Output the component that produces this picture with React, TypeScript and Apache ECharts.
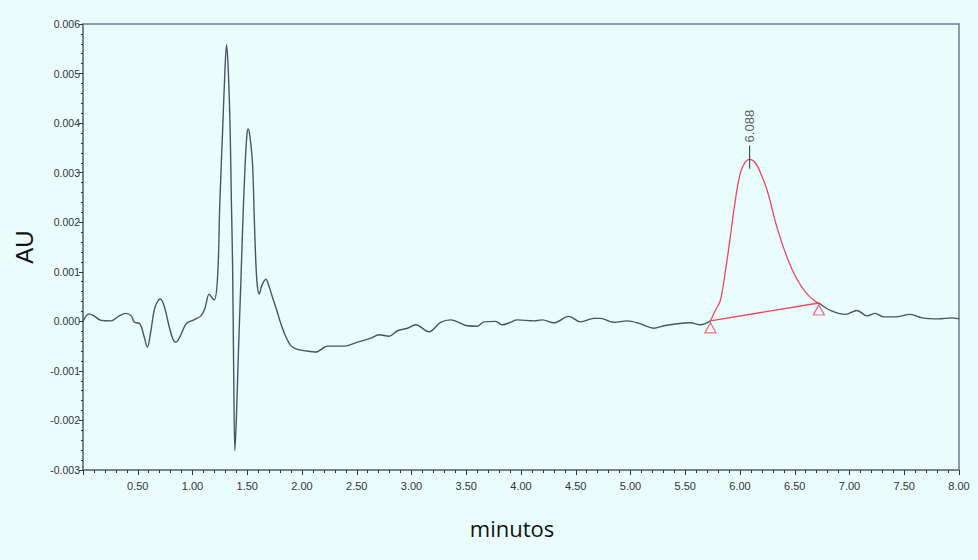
import React, { useEffect, useRef } from "react";
import * as echarts from "echarts";

// Chromatogram trace before the integrated peak [minutes, AU]
const traceBefore: [number, number][] = [
  [0.0, 0.0], [0.055, 0.00015], [0.1, 0.00011], [0.164, 0.00002], [0.255, 0.00001],
  [0.33, 0.00011], [0.39, 0.00016], [0.44, 0.00011], [0.47, -0.00002], [0.52, -0.00005],
  [0.556, -0.00029], [0.588, -0.00052], [0.62, -0.00019], [0.657, 0.00028], [0.705, 0.00045],
  [0.74, 0.00032], [0.785, -0.00009], [0.82, -0.00035], [0.849, -0.00042], [0.894, -0.00027],
  [0.93, -0.00009], [0.958, -0.00002], [1.013, 0.00003], [1.077, 0.00011], [1.113, 0.00026],
  [1.152, 0.00055], [1.177, 0.00048], [1.198, 0.00043], [1.229, 0.00089], [1.25, 0.00243],
  [1.275, 0.00384], [1.296, 0.00505], [1.311, 0.00558], [1.327, 0.00505], [1.344, 0.00384],
  [1.355, 0.00243], [1.366, 0.00116], [1.376, -0.001], [1.387, -0.00261], [1.4, -0.002],
  [1.414, -0.001], [1.426, -0.00019], [1.442, 0.00082], [1.457, 0.00183], [1.478, 0.00304],
  [1.496, 0.00374], [1.508, 0.00388], [1.524, 0.00374], [1.548, 0.00318], [1.565, 0.00203],
  [1.579, 0.00116], [1.592, 0.00072], [1.609, 0.00055], [1.633, 0.00072], [1.67, 0.00085],
  [1.697, 0.00072], [1.731, 0.00048], [1.77, 0.00022], [1.807, -0.00005], [1.852, -0.00031],
  [1.898, -0.00049], [1.953, -0.00056], [2.019, -0.00059], [2.126, -0.00062], [2.233, -0.0005],
  [2.384, -0.0005], [2.506, -0.00042], [2.628, -0.00034], [2.703, -0.00027], [2.795, -0.0003],
  [2.871, -0.00019], [2.963, -0.00014], [3.038, -0.00007], [3.16, -0.00021], [3.266, -0.00002],
  [3.358, 0.00003], [3.51, -0.00009], [3.601, -0.0001], [3.662, -0.00001], [3.768, 0.0],
  [3.829, -0.00007], [3.905, -0.00002], [3.966, 0.00003], [4.118, 0.00001], [4.194, 0.00003],
  [4.3, -0.00003], [4.437, 0.0001], [4.544, -0.00001], [4.665, 0.00006], [4.726, 0.00006],
  [4.848, -0.00002], [4.97, 0.00001], [5.091, -0.00005], [5.213, -0.00014], [5.304, -0.00009],
  [5.426, -0.00005], [5.547, -0.00003], [5.639, -0.00007], [5.73, 0.00001],
];

// Integrated peak (red)
const peakTrace: [number, number][] = [
  [5.73, 0.00001], [5.775, 0.00022], [5.82, 0.00042], [5.867, 0.00102], [5.91, 0.00168],
  [5.958, 0.00245], [6.004, 0.00300], [6.049, 0.00322], [6.088, 0.00327], [6.14, 0.0032],
  [6.2, 0.00293], [6.25, 0.00263], [6.34, 0.00188], [6.43, 0.00129], [6.52, 0.00085],
  [6.61, 0.00056], [6.69, 0.00040], [6.72, 0.00037],
];

// Trace after the integrated peak
const traceAfter: [number, number][] = [
  [6.72, 0.00037], [6.825, 0.00022], [6.962, 0.00014], [7.068, 0.00022], [7.16, 0.00011],
  [7.235, 0.00016], [7.311, 0.00009], [7.418, 0.00009], [7.555, 0.00014], [7.662, 0.00007],
  [7.813, 0.00005], [7.935, 0.00007], [8.0, 0.00005],
];

// Integration baseline (start / end markers)
const peakBaseline: [number, number][] = [[5.73, 0.00001], [6.72, 0.00037]];

// Retention time label
const peakLabel = "6.088";
const apexTick: [number, number][] = [[6.088, 0.00355], [6.088, 0.00308]];

const xTicks = { min: 0, max: 8, interval: 0.5 };
const yTicks = { min: -0.003, max: 0.006, interval: 0.001 };

const BG = "#E9FDFD";
const AXIS = "#6E7B8C";
const TRACE = "#4C5363";
const RED = "#F2455F";
const FONT = "'Liberation Sans Narrow', 'Liberation Sans', Arial, sans-serif";

export default function App() {
  const ref = useRef<HTMLDivElement>(null);
  useEffect(() => {
    if (!ref.current) return;
    const chart = echarts.init(ref.current, undefined, { renderer: "svg" });
    chart.setOption({
      animation: false,
      backgroundColor: BG,
      grid: {
        left: 83, right: 19, top: 24, bottom: 90,
        show: true, borderColor: AXIS, borderWidth: 1.5, backgroundColor: BG,
      },
      xAxis: {
        type: "value",
        min: xTicks.min, max: xTicks.max, interval: xTicks.interval,
        name: "minutos",
        nameLocation: "middle",
        nameGap: 47,
        nameTextStyle: { fontFamily: "'Open Sans', sans-serif", fontSize: 22, color: "#111", padding: [0, 18, 0, 0] },
        axisLine: { show: true, onZero: false, lineStyle: { color: AXIS, width: 1.5 } },
        axisTick: { show: true, length: 5, lineStyle: { color: "#333" } },
        minorTick: { show: true, splitNumber: 5, length: 3, lineStyle: { color: "#333" } },
        splitLine: { show: false },
        axisLabel: {
          showMinLabel: false,
          margin: 10,
          fontFamily: FONT, fontSize: 11, color: "#333",
          formatter: (v: number) => v.toFixed(2),
        },
      },
      yAxis: {
        type: "value",
        min: yTicks.min, max: yTicks.max, interval: yTicks.interval,
        name: "AU",
        nameLocation: "middle",
        nameGap: 47,
        nameRotate: 90,
        nameTextStyle: { fontFamily: "'Liberation Sans', Arial, sans-serif", fontSize: 24, color: "#111" },
        axisLine: { show: true, onZero: false, lineStyle: { color: AXIS, width: 1.5 } },
        axisTick: { show: true, length: 4, lineStyle: { color: "#333" } },
        minorTick: { show: true, splitNumber: 5, length: 2, lineStyle: { color: "#333" } },
        splitLine: { show: false },
        axisLabel: {
          margin: 3,
          fontFamily: FONT, fontSize: 10.5, color: "#333",
          formatter: (v: number) => v.toFixed(3),
        },
      },
      series: [
        {
          type: "line", data: traceBefore, showSymbol: false, smooth: 0.35,
          lineStyle: { color: TRACE, width: 1.4 }, silent: true,
        },
        {
          type: "line", data: traceAfter, showSymbol: false, smooth: 0.35,
          lineStyle: { color: TRACE, width: 1.4 }, silent: true,
        },
        {
          type: "line", data: peakTrace, showSymbol: false, smooth: 0.4,
          lineStyle: { color: RED, width: 1.3 }, silent: true,
        },
        {
          type: "line", data: peakBaseline, showSymbol: false,
          lineStyle: { color: RED, width: 1.3 }, silent: true,
        },
        {
          type: "scatter", data: peakBaseline, symbol: "triangle", symbolSize: [11, 10],
          symbolOffset: [0, 7],
          itemStyle: { color: "rgba(0,0,0,0)", borderColor: RED, borderWidth: 1.3 }, silent: true,
        },
        {
          type: "line", data: apexTick, showSymbol: false,
          lineStyle: { color: "#333", width: 1 }, silent: true,
        },
        {
          type: "scatter", data: [apexTick[0]], symbolSize: 0, silent: true,
          label: {
            show: true, formatter: peakLabel, position: "top", distance: 3,
            rotate: 90, align: "left", verticalAlign: "middle",
            fontFamily: FONT, fontSize: 13, color: "#333",
          },
        },
      ],
    });
    return () => chart.dispose();
  }, []);
  return <div ref={ref} style={{ width: 978, height: 560, position: "absolute", left: 0, top: 0 }} />;
}
